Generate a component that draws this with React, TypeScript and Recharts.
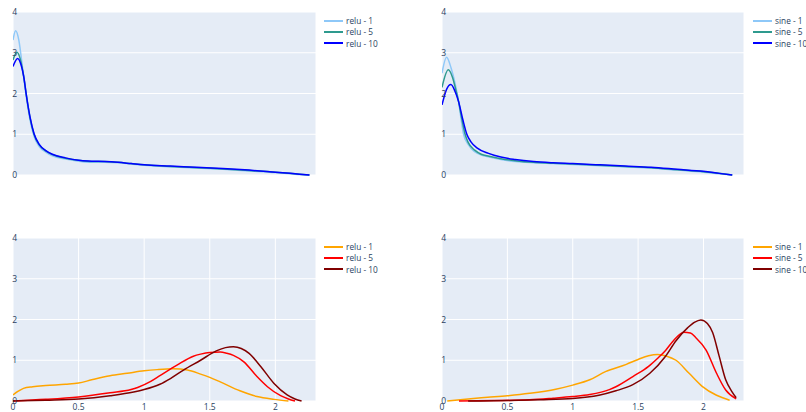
import { CartesianGrid, Legend, Line, LineChart, XAxis, YAxis } from "recharts"

type Pt = [number, number]

// axis ticks (shared by all four panels)
const xTicks = [0, 0.5, 1, 1.5, 2]
const yTicks = [0, 1, 2, 3, 4]

// top row: relu / sine, blues
const reluTop1: Pt[] = [[0, 3.31], [0.02, 3.54], [0.045, 3.3], [0.07, 2.7], [0.1, 1.95], [0.13, 1.35], [0.16, 0.95], [0.2, 0.7], [0.25, 0.56], [0.3, 0.47], [0.4, 0.39], [0.5, 0.34], [0.6, 0.31], [0.7, 0.31], [0.8, 0.3], [0.9, 0.27], [1.0, 0.24], [1.2, 0.2], [1.4, 0.17], [1.6, 0.14], [1.8, 0.1], [2.0, 0.06], [2.15, 0.02], [2.26, 0]]
const reluTop5: Pt[] = [[0, 2.82], [0.03, 3.01], [0.055, 2.85], [0.08, 2.45], [0.1, 2.0], [0.13, 1.4], [0.16, 1.0], [0.2, 0.74], [0.25, 0.59], [0.3, 0.5], [0.4, 0.41], [0.5, 0.36], [0.6, 0.33], [0.7, 0.33], [0.8, 0.31], [0.9, 0.28], [1.0, 0.25], [1.2, 0.21], [1.4, 0.18], [1.6, 0.15], [1.8, 0.11], [2.0, 0.07], [2.15, 0.03], [2.26, 0]]
const reluTop10: Pt[] = [[0, 2.66], [0.035, 2.86], [0.06, 2.72], [0.085, 2.35], [0.1, 2.0], [0.13, 1.42], [0.16, 1.02], [0.2, 0.75], [0.25, 0.6], [0.3, 0.51], [0.4, 0.42], [0.5, 0.36], [0.6, 0.34], [0.7, 0.33], [0.8, 0.31], [0.9, 0.28], [1.0, 0.25], [1.2, 0.22], [1.4, 0.19], [1.6, 0.16], [1.8, 0.12], [2.0, 0.07], [2.15, 0.03], [2.26, 0]]

const sineTop1: Pt[] = [[0, 2.5], [0.035, 2.89], [0.07, 2.62], [0.1, 2.25], [0.127, 1.8], [0.145, 1.4], [0.165, 1.0], [0.2, 0.75], [0.25, 0.57], [0.3, 0.49], [0.36, 0.44], [0.45, 0.38], [0.56, 0.33], [0.7, 0.3], [0.85, 0.28], [1.0, 0.26], [1.2, 0.23], [1.4, 0.2], [1.6, 0.17], [1.8, 0.12], [2.0, 0.07], [2.12, 0.03], [2.22, 0]]
const sineTop5: Pt[] = [[0, 2.15], [0.048, 2.58], [0.08, 2.4], [0.105, 2.1], [0.127, 1.8], [0.15, 1.4], [0.175, 1.02], [0.2, 0.8], [0.25, 0.61], [0.3, 0.51], [0.36, 0.46], [0.45, 0.4], [0.56, 0.35], [0.7, 0.31], [0.85, 0.29], [1.0, 0.27], [1.2, 0.24], [1.4, 0.21], [1.6, 0.18], [1.8, 0.13], [2.0, 0.08], [2.12, 0.04], [2.22, 0]]
const sineTop10: Pt[] = [[0, 1.72], [0.035, 2.1], [0.068, 2.22], [0.1, 2.05], [0.127, 1.8], [0.16, 1.35], [0.19, 1.0], [0.22, 0.82], [0.27, 0.66], [0.356, 0.53], [0.45, 0.44], [0.56, 0.38], [0.7, 0.33], [0.85, 0.3], [1.0, 0.28], [1.2, 0.25], [1.4, 0.22], [1.6, 0.19], [1.8, 0.14], [2.0, 0.09], [2.12, 0.04], [2.22, 0]]

// bottom row: relu / sine, oranges & reds
const reluBot1: Pt[] = [[0, 0.15], [0.04, 0.24], [0.08, 0.31], [0.15, 0.35], [0.25, 0.38], [0.4, 0.41], [0.5, 0.44], [0.6, 0.52], [0.74, 0.62], [0.87, 0.68], [1.0, 0.74], [1.1, 0.77], [1.22, 0.79], [1.33, 0.76], [1.43, 0.66], [1.5, 0.58], [1.58, 0.47], [1.73, 0.25], [1.86, 0.11], [1.99, 0.04], [2.1, 0]]
const reluBot5: Pt[] = [[0, 0], [0.25, 0.04], [0.5, 0.1], [0.74, 0.2], [0.9, 0.28], [0.95, 0.33], [1.05, 0.48], [1.12, 0.62], [1.25, 0.88], [1.375, 1.1], [1.43, 1.15], [1.5, 1.19], [1.58, 1.2], [1.63, 1.17], [1.68, 1.12], [1.76, 0.96], [1.86, 0.6], [1.94, 0.35], [2.04, 0.13], [2.1, 0.05], [2.15, 0]]
const reluBot10: Pt[] = [[0, 0], [0.25, 0.02], [0.5, 0.05], [0.74, 0.13], [0.92, 0.22], [1.0, 0.28], [1.12, 0.41], [1.2, 0.55], [1.3, 0.76], [1.43, 1.0], [1.55, 1.23], [1.62, 1.31], [1.68, 1.33], [1.74, 1.29], [1.8, 1.17], [1.89, 0.84], [1.99, 0.43], [2.09, 0.15], [2.15, 0.05], [2.2, 0]]

const sineBot1: Pt[] = [[0.04, 0], [0.2, 0.05], [0.35, 0.09], [0.5, 0.13], [0.67, 0.19], [0.87, 0.29], [1.0, 0.39], [1.13, 0.52], [1.25, 0.72], [1.41, 0.9], [1.5, 1.02], [1.58, 1.11], [1.65, 1.14], [1.72, 1.1], [1.79, 1.0], [1.89, 0.68], [1.99, 0.36], [2.1, 0.14], [2.2, 0.02]]
const sineBot5: Pt[] = [[0.13, 0], [0.4, 0.01], [0.67, 0.03], [0.85, 0.07], [1.0, 0.11], [1.13, 0.16], [1.28, 0.28], [1.33, 0.35], [1.46, 0.6], [1.58, 0.85], [1.65, 1.05], [1.71, 1.24], [1.77, 1.48], [1.85, 1.69], [1.9, 1.67], [1.94, 1.56], [2.02, 1.25], [2.1, 0.68], [2.17, 0.27], [2.25, 0.05]]
const sineBot10: Pt[] = [[0.2, 0], [0.5, 0.01], [0.75, 0.03], [1.0, 0.06], [1.2, 0.14], [1.33, 0.25], [1.46, 0.4], [1.59, 0.68], [1.71, 1.1], [1.79, 1.48], [1.88, 1.8], [1.93, 1.93], [1.98, 1.99], [2.03, 1.9], [2.07, 1.68], [2.12, 1.1], [2.17, 0.52], [2.22, 0.22], [2.25, 0.08]]

type Series = { name: string; color: string; pts: Pt[] }

const FONT = '"Open Sans", sans-serif'
const TEXT = "#2a3f5f"

const toRows = (pts: Pt[]) => pts.map(([x, y]) => ({ x, y }))

// legend à la plotly: short line + label, tight rows, trace order kept
function LegendBox({ series }: { series: Series[] }) {
	return (
		<div>
			{series.map((s) => (
				<div key={s.name} style={{ display: "flex", alignItems: "center", height: 11.3, whiteSpace: "nowrap" }}>
					<svg width={19} height={4} style={{ display: "block", flex: "none" }}>
						<line x1={0} y1={2} x2={19} y2={2} stroke={s.color} strokeWidth={2} />
					</svg>
					<span style={{ marginLeft: 3, fontSize: 8.3, color: TEXT, fontFamily: FONT, lineHeight: "11px" }}>
						{s.name}
					</span>
				</div>
			))}
		</div>
	)
}

type PanelProps = {
	left: number
	top: number
	width: number
	height: number
	right: number
	bottomAxis: boolean
	series: Series[]
}

function Panel({ left, top, width, height, right, bottomAxis, series }: PanelProps) {
	const tickStyle = { fontSize: 8.5, fill: TEXT, fontFamily: FONT }
	return (
		<div style={{ position: "absolute", left, top }}>
			<LineChart width={width} height={height} margin={{ top: 12, right, left: 0, bottom: 0 }} style={{ overflow: "visible" }}>
				<CartesianGrid fill="#E5ECF6" stroke="#ffffff" strokeWidth={1} />
				<XAxis
					dataKey="x"
					type="number"
					domain={[0, 2.31]}
					ticks={xTicks}
					allowDataOverflow
					axisLine={false}
					tickLine={false}
					tickSize={0}
					tickMargin={3}
					height={bottomAxis ? 11 : 15}
					tick={bottomAxis ? tickStyle : false}
				/>
				<YAxis
					type="number"
					domain={[0, 4]}
					ticks={yTicks}
					width={13}
					axisLine={false}
					tickLine={false}
					tickSize={0}
					tickMargin={1}
					tick={{ ...tickStyle, dx: 5 }}
				/>
				<Legend
					layout="vertical"
					align="center"
					verticalAlign="middle"
					content={<LegendBox series={series} />}
					wrapperStyle={{ left: 324, top: 15, width: 52 }}
				/>
				{series.map((s) => (
					<Line
						key={s.name}
						name={s.name}
						data={toRows(s.pts)}
						dataKey="y"
						type="monotone"
						stroke={s.color}
						strokeWidth={1.5}
						dot={false}
						activeDot={false}
						isAnimationActive={false}
					/>
				))}
			</LineChart>
		</div>
	)
}

const LIGHT = "#8ec8f8"
const TEAL = "#2e9a8e"
const BLUE = "#0000ff"
const ORANGE = "#ffa500"
const RED = "#ff0000"
const DARKRED = "#800000"

export default function App() {
	return (
		<div style={{ position: "absolute", left: 0, top: 0, width: 806, height: 412, background: "#fff", overflow: "hidden" }}>
			<Panel left={0} top={0} width={420} height={190} right={104} bottomAxis={false}
				series={[
					{ name: "relu - 1", color: LIGHT, pts: reluTop1 },
					{ name: "relu - 5", color: TEAL, pts: reluTop5 },
					{ name: "relu - 10", color: BLUE, pts: reluTop10 },
				]}
			/>
			<Panel left={429} top={0} width={377} height={190} right={62} bottomAxis={false}
				series={[
					{ name: "sine - 1", color: LIGHT, pts: sineTop1 },
					{ name: "sine - 5", color: TEAL, pts: sineTop5 },
					{ name: "sine - 10", color: BLUE, pts: sineTop10 },
				]}
			/>
			<Panel left={0} top={226} width={420} height={186} right={104} bottomAxis
				series={[
					{ name: "relu - 1", color: ORANGE, pts: reluBot1 },
					{ name: "relu - 5", color: RED, pts: reluBot5 },
					{ name: "relu - 10", color: DARKRED, pts: reluBot10 },
				]}
			/>
			<Panel left={429} top={226} width={377} height={186} right={62} bottomAxis
				series={[
					{ name: "sine - 1", color: ORANGE, pts: sineBot1 },
					{ name: "sine - 5", color: RED, pts: sineBot5 },
					{ name: "sine - 10", color: DARKRED, pts: sineBot10 },
				]}
			/>
		</div>
	)
}
